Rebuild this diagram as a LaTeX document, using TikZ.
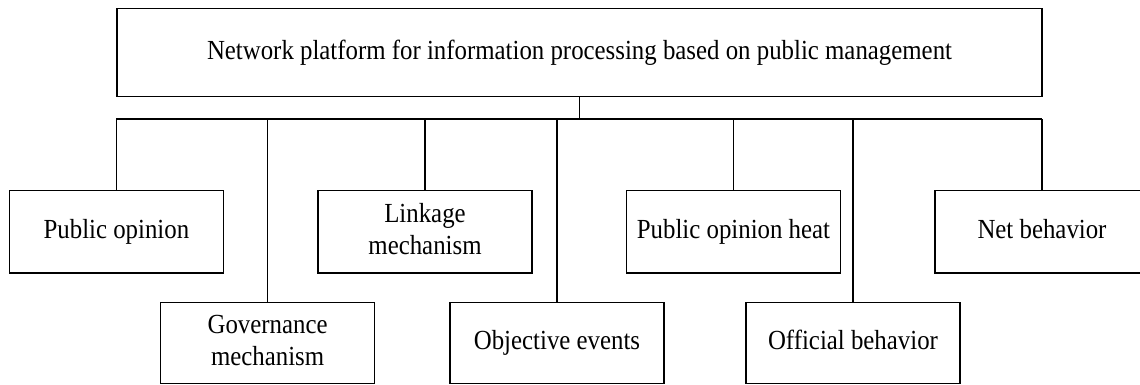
\documentclass[tikz,border=0pt]{standalone}
\usepackage{fontspec}
\setmainfont{Liberation Serif}
\usepackage{graphicx}
\newcommand{\lbl}[1]{\scalebox{0.9}[1]{\begin{tabular}{@{}c@{}}#1\end{tabular}}}
\begin{document}
\begin{tikzpicture}[x=0.5pt,y=-0.5pt,
  box/.style={draw, line width=0.65pt, inner sep=0pt, minimum width=107pt, font=\fontsize{13.8pt}{16.3pt}\selectfont},
  upper/.style={box, minimum height=41.2pt},
  lower/.style={box, minimum height=40.4pt},
  conn/.style={line width=0.65pt},
  busthick/.style={line width=1pt}]
\useasboundingbox (0,0) rectangle (1140,385);
\node[box, minimum width=462.5pt, minimum height=44.2pt] (top) at (579.5,52.5) {\lbl{Network platform for information processing based on public management}};
\node[upper] (po)   at (116.4,231.9) {\lbl{Public opinion}};
\node[upper] (link) at (425,231.9)   {\lbl{Linkage\\mechanism}};
\node[upper] (heat) at (733.5,231.9) {\lbl{Public opinion heat}};
\node[upper] (net)  at (1042,231.9)  {\lbl{Net behavior}};
\node[lower] (gov)  at (267.6,342.9) {\lbl{Governance\\mechanism}};
\node[lower] (obj)  at (557,342.9)   {\lbl{Objective events}};
\node[lower] (off)  at (853,342.9)   {\lbl{Official behavior}};
\coordinate (bus) at (579.5,119);
\draw[conn] (top.south) -- (top.south |- bus);
\draw[conn] (po.north |- bus) -- (net.north |- bus);
\draw[busthick] (gov.north |- bus) -- (off.north |- bus);
\foreach \n in {po,link,heat,net,gov,obj,off}{
  \draw[conn] (\n.north) -- (\n.north |- bus);
}
\end{tikzpicture}
\end{document}
